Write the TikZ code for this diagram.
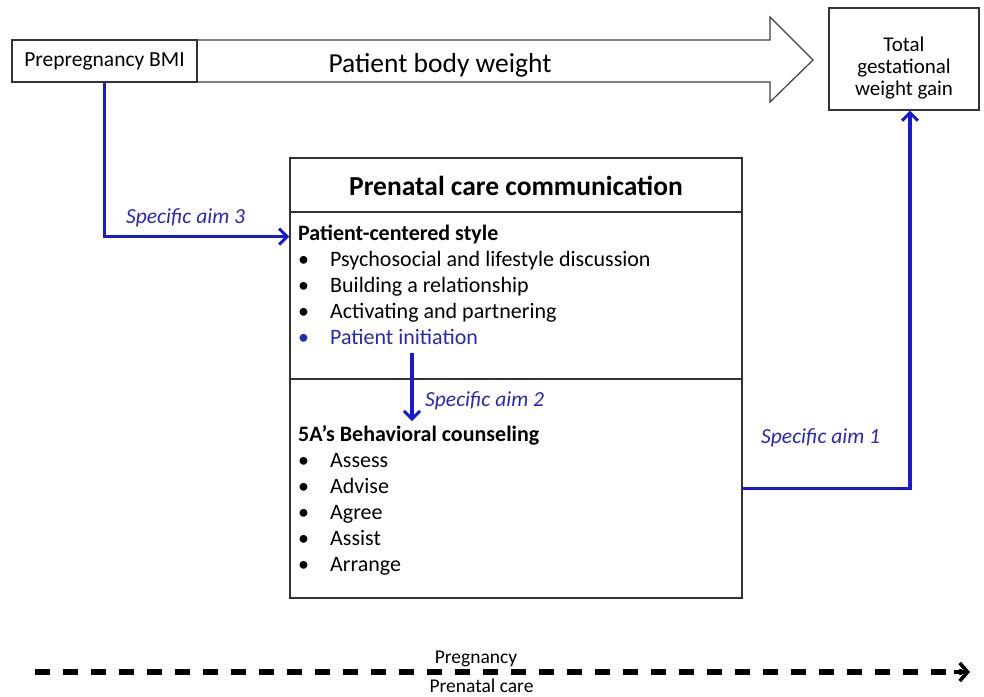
\documentclass[tikz,border=0pt]{standalone}
\usepackage{fontspec}
\setmainfont{Carlito}
\usetikzlibrary{arrows.meta,calc}
\definecolor{aimblue}{RGB}{25,25,210}
\definecolor{aimtext}{RGB}{40,40,185}
\tikzset{
  box/.style={draw=black!80, line width=1.4pt, fill=white, inner sep=0pt},
  aim/.style={draw=aimblue, line width=3.5pt, -{Straight Barb[length=8pt,width=16pt,line width=3pt]}},
  aimlabel/.style={text=aimtext, font=\fontsize{21.5}{24}\selectfont\itshape, inner sep=0pt, anchor=base west},
  item/.style={anchor=base west, inner sep=0pt, font=\fontsize{22}{26}\selectfont},
  head/.style={anchor=base west, inner sep=0pt, font=\fontsize{22}{26}\selectfont\bfseries},
}
\begin{document}
\begin{tikzpicture}[x=1pt,y=-1pt]
\useasboundingbox (0,0) rectangle (984,696);
% big arrow
\draw[draw=black!75, line width=1.2pt, fill=white] (12,40) -- (770,40) -- (770,17) -- (813,60) -- (770,102) -- (770,82) -- (12,82) -- cycle;
\node[font=\fontsize{27.5}{30}\selectfont, inner sep=0pt, anchor=base] (pbw) at (440,72) {Patient body weight};
\node[box, line width=2pt, minimum width=185pt, minimum height=42pt, font=\fontsize{21.5}{24}\selectfont] (bmi) at (104.5,61) {Prepregnancy BMI};
\node[box, line width=1.2pt, minimum width=150pt, minimum height=102pt] (tgwg) at (904,59) {};
\node[font=\fontsize{21}{24}\selectfont, inner sep=0pt, anchor=base] (tg1) at (904,51) {Total};
\node[font=\fontsize{21}{24}\selectfont, inner sep=0pt, anchor=base] (tg2) at (904,73) {gestational};
\node[font=\fontsize{21}{24}\selectfont, inner sep=0pt, anchor=base] (tg3) at (904,95) {weight gain};
% main box
\node[box, minimum width=452pt, minimum height=54pt] (hdr) at (516,185) {};
\node[font=\fontsize{27.5}{30}\selectfont\bfseries, inner sep=0pt, anchor=base] (hdrt) at (516,195) {Prenatal care communication};
\node[box, minimum width=452pt, minimum height=167pt] (pcs) at (516,295.5) {};
\node[box, minimum width=452pt, minimum height=219pt] (five) at (516,488.5) {};
% patient-centered
\node[head] (pcsh) at (298,240) {Patient-centered style};
\foreach \t/\y/\c [count=\i] in {Psychosocial and lifestyle discussion/266/black, Building a relationship/292/black, Activating and partnering/318/black, Patient initiation/344/aimtext}{
  \node[item, text=\c] (pb\i) at (298,\y) {•};
  \node[item, text=\c] (pi\i) at (330,\y) {\t};
}
% 5A
\node[head] (fiveh) at (298,441) {5A’s Behavioral counseling};
\foreach \t/\y [count=\i] in {Assess/467, Advise/493, Agree/519, Assist/545, Arrange/571}{
  \node[item] (fb\i) at (298,\y) {•};
  \node[item] (fi\i) at (330,\y) {\t};
}
% aims
\draw[aim] (bmi.south) |- ($(pcs.north west)!0.15!(pcs.south west)$);
\node[aimlabel] (l3) at (126,223) {Specific aim 3};
\coordinate (a2s) at (412,353);
\coordinate (a2e) at (412,421);
\draw[aim] (a2s) -- (a2e);
\node[aimlabel] (l2) at (425,406) {Specific aim 2};
\draw[aim] (five.east) -| ([xshift=6pt]tgwg.south);
\node[aimlabel] (l1) at (761,443) {Specific aim 1};
% timeline
\coordinate (ds) at (35,672);
\coordinate (de) at (970,672);
\draw[line width=6pt, dash pattern=on 15pt off 13pt] (ds) -- ([xshift=-8pt]de);
\draw[line width=4pt, -{Straight Barb[length=8pt,width=18pt,line width=3.5pt]}] ([xshift=-16pt]de) -- (de);
\node[font=\fontsize{19.5}{22}\selectfont, inner sep=0pt, anchor=base] (preg) at (476,663) {Pregnancy};
\node[font=\fontsize{19.5}{22}\selectfont, inner sep=0pt, anchor=base] (pnc) at (481.5,692) {Prenatal care};
\end{tikzpicture}
\end{document}
